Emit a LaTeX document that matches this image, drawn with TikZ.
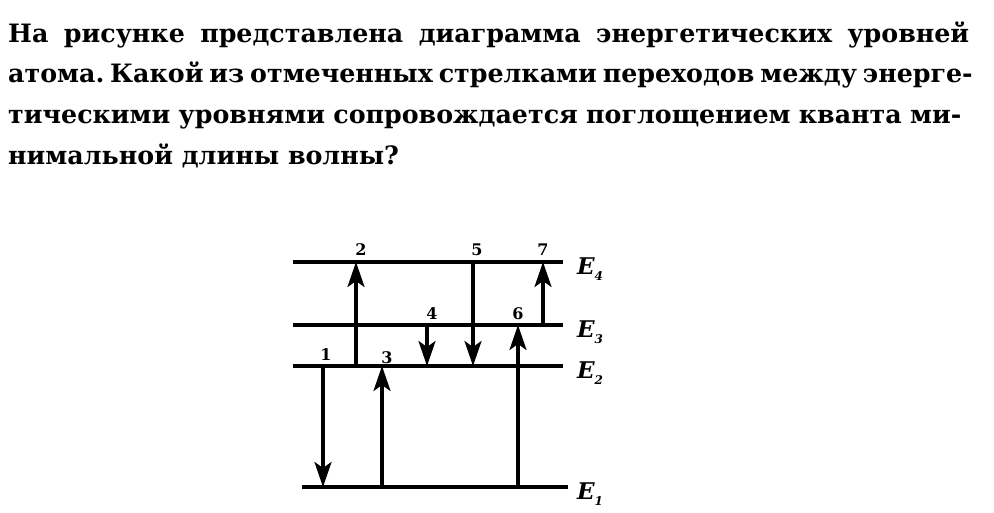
\documentclass[tikz,border=0pt]{standalone}
\usepackage{fontspec}
\setmainfont{DejaVu Serif}
\usetikzlibrary{arrows.meta}
\newcommand*{\enlevel}[5]{%
\coordinate (#1) at (#3, #2);
\coordinate (#1r) at (#4, #2);
\draw[level] (#1) -- (#1r);
\node[elabel] (#1t) at (577, #2+12) {E\raisebox{-6pt}{\fontsize{12}{12}\selectfont #5}};}

\tikzset{
  level/.style={line width=3.2pt},
  trans/.style={line width=3.2pt, -{Stealth[length=25pt, width=17pt, inset=6pt]}},
  numlabel/.style={font=\fontsize{16}{16}\selectfont\bfseries, inner sep=0pt, anchor=base},
  elabel/.style={font=\fontsize{23}{23}\selectfont\bfseries\itshape, inner sep=0pt, anchor=base west},
  qline/.style={font=\fontsize{25.3}{30}\selectfont\bfseries, inner sep=0pt, anchor=base west},
}

\begin{document}
\frenchspacing
\begin{tikzpicture}[x=1pt, y=-1pt]
\useasboundingbox[fill=white] (0,0) rectangle (994,512);

\def\qw{961pt}
\node[qline] (q1) at (8,42) {\makebox[\qw][s]{На рисунке представлена диаграмма энергетических уровней}};
\node[qline] (q2) at (8,82) {\makebox[\qw][s]{атома. Какой из отмеченных стрелками переходов между энерге-}};
\node[qline] (q3) at (8,123) {\makebox[953pt][s]{тическими уровнями сопровождается поглощением кванта ми-}};
\node[qline] (q4) at (8,164) {нимальной длины волны?};

\enlevel{E4}{262}{293}{563}{4}
\enlevel{E3}{325}{293}{563}{3}
\enlevel{E2}{366}{293}{563}{2}
\enlevel{E1}{487}{302}{568}{1}

\foreach \n/\x/\a/\b in {1/323/E2/E1, 2/356/E2/E4, 3/382/E1/E2, 4/427/E3/E2,
                         5/473/E4/E2, 6/518/E1/E3, 7/543/E3/E4}{
  \coordinate (x\n) at (\x,0);
  \draw[trans] (x\n |- \a) -- (x\n |- \b);
}

\foreach \n/\x/\y in {1/326/360, 2/361/255, 3/387/363, 4/432/319,
                      5/477/255, 6/518/319, 7/543/255}
  \node[numlabel] (n\n) at (\x,\y) {\n};

%\draw[red, thin] (0,0) grid[step=50] (994,512);
\end{tikzpicture}
\end{document}
